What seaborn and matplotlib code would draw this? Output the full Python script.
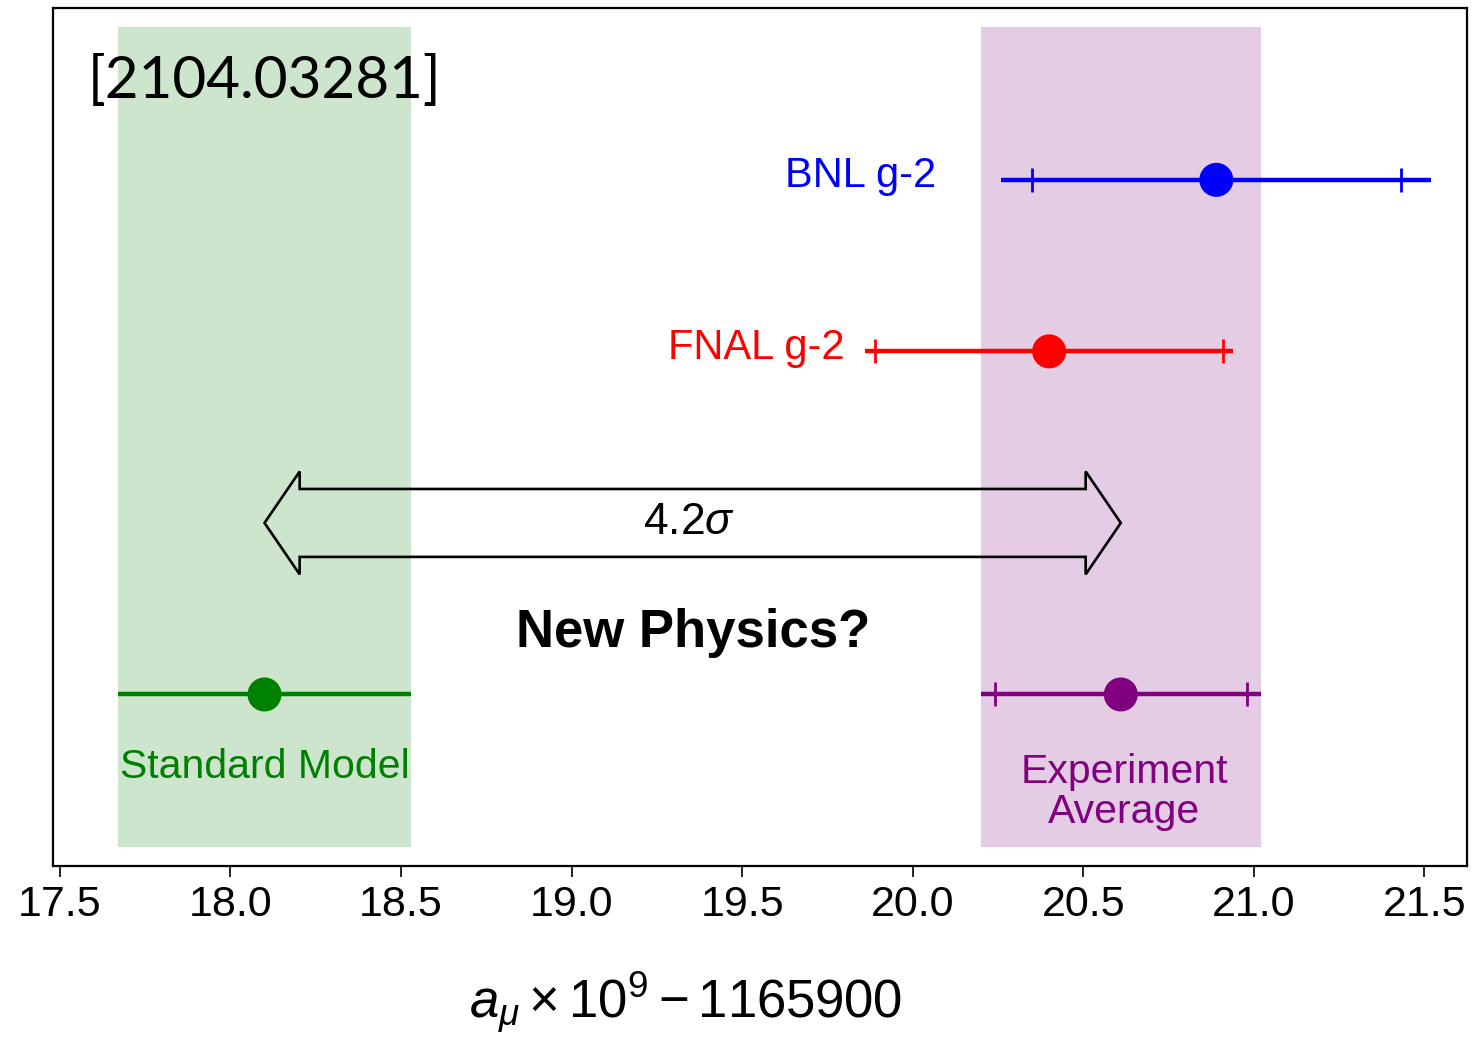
import numpy as np
import pandas as pd
import matplotlib
matplotlib.use("Agg")
import matplotlib.pyplot as plt
from matplotlib.patches import Polygon
import seaborn as sns

# a_mu x 1e9 - 1165900 values with total and statistical uncertainties
names = ["BNL g-2", "FNAL g-2", "Standard Model", "Experiment\nAverage"]
values = [20.89, 20.40, 18.10, 20.61]
total_err = [0.63, 0.54, 0.43, 0.41]
stat_err = [0.54, 0.51, np.nan, 0.37]
rows = [4, 3, 1, 1]
colors = ["blue", "red", "green", "purple"]
xticks = [17.5, 18.0, 18.5, 19.0, 19.5, 20.0, 20.5, 21.0, 21.5]
significance = "4.2"
reference = "[2104.03281]"

df = pd.DataFrame({"name": names, "value": values, "total": total_err,
                   "stat": stat_err, "row": rows, "color": colors})

sns.set_theme(style="ticks")
plt.rcParams["font.family"] = ["Liberation Sans", "DejaVu Sans"]
plt.rcParams["text.color"] = "black"
plt.rcParams["axes.labelcolor"] = "black"
plt.rcParams["xtick.color"] = "black"
plt.rcParams["mathtext.fontset"] = "custom"
plt.rcParams["mathtext.rm"] = "Liberation Sans"
plt.rcParams["mathtext.it"] = "Liberation Sans:italic"

fig = plt.figure(figsize=(14.78, 10.39), dpi=100)
ax = fig.add_axes([0.0361, 0.1665, 0.9565, 0.8255])
ax.set_xlim(17.481, 21.625)
ax.set_ylim(0, 5)

# shaded bands for theory and experimental average
sm = df[df["name"] == "Standard Model"].iloc[0]
avg = df[df["name"] == "Experiment\nAverage"].iloc[0]
for r in (sm, avg):
    ax.axvspan(r["value"] - r["total"], r["value"] + r["total"],
               ymin=0.022, ymax=0.978, color=r["color"], alpha=0.2, lw=0, zorder=0)

# error bars: total uncertainty as a line, statistical part as cap ticks
for _, r in df.iterrows():
    ax.errorbar(r["value"], r["row"], xerr=r["total"], fmt="none",
                ecolor=r["color"], elinewidth=3.2, capsize=0, zorder=2)
    if not np.isnan(r["stat"]):
        ax.errorbar(r["value"], r["row"], xerr=r["stat"], fmt="none",
                    ecolor=r["color"], elinewidth=0, capsize=8.3, capthick=2,
                    zorder=2)

sns.scatterplot(data=df, x="value", y="row", hue="name",
                palette=dict(zip(names, colors)), s=600, linewidth=0,
                legend=False, ax=ax, zorder=3)

# labels next to the measurements
bnl = df.iloc[0]
fnal = df.iloc[1]
ax.text(bnl["value"] - bnl["total"] - 0.19, bnl["row"] + 0.02, bnl["name"],
        color=bnl["color"], fontsize=30, ha="right", va="center")
ax.text(fnal["value"] - fnal["total"] - 0.06, fnal["row"] + 0.02, fnal["name"],
        color=fnal["color"], fontsize=30, ha="right", va="center")
ax.text(sm["value"], 0.575, sm["name"], color=sm["color"], fontsize=29.5,
        ha="center", va="center")
ax.text(avg["value"] + 0.01, 0.43, avg["name"], color=avg["color"], fontsize=29.5,
        ha="center", va="center", linespacing=1.05)

# double-headed outline arrow spanning SM to experiment
y0 = 2.0
shaft, head_h, head_l = 0.198, 0.30, 0.103
x1, x2 = sm["value"], avg["value"]
arrow = Polygon([
    (x1, y0), (x1 + head_l, y0 + head_h), (x1 + head_l, y0 + shaft),
    (x2 - head_l, y0 + shaft), (x2 - head_l, y0 + head_h), (x2, y0),
    (x2 - head_l, y0 - head_h), (x2 - head_l, y0 - shaft),
    (x1 + head_l, y0 - shaft), (x1 + head_l, y0 - head_h)],
    closed=True, fill=False, edgecolor="black", lw=1.9, zorder=4)
ax.add_patch(arrow)
ax.text((x1 + x2) / 2 - 0.01, y0, significance + r"$\sigma$", fontsize=32,
        ha="center", va="center", zorder=5)

ax.text((x1 + x2) / 2 + 0.0, 1.36, "New Physics?", fontsize=38,
        fontweight="bold", ha="center", va="center")

ax.text(0.0245, 0.896, reference, transform=ax.transAxes, fontsize=42,
        family=["Lato", "DejaVu Sans"], ha="left", va="baseline")

# axes styling
ax.set_xticks(xticks)
ax.set_xticklabels([f"{t:.1f}" for t in xticks])
ax.set_yticks([])
ax.set_ylabel("")
ax.tick_params(axis="x", labelsize=31, length=8, width=1.2, pad=6,
               direction="out", colors="black")
for s in ax.spines.values():
    s.set_visible(True)
    s.set_color("black")
    s.set_linewidth(1.6)

ax.set_xlabel(r"$a_\mu \times 10^9 - 1165900$", fontsize=38)
ax.xaxis.set_label_coords(0.447, -0.176)
ax.xaxis.label.set_va("baseline")

fig.savefig("out.png", dpi=100)
